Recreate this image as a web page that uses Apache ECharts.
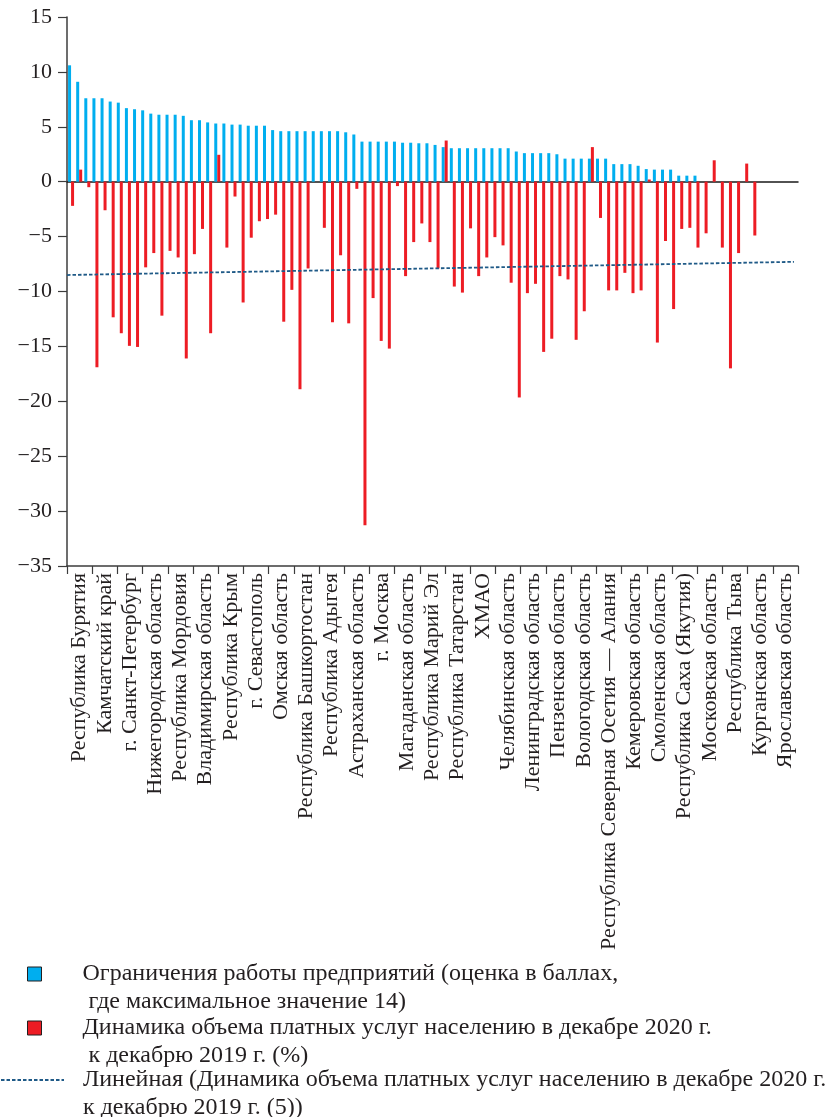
<!DOCTYPE html>
<html><head><meta charset="utf-8">
<script src="https://cdn.jsdelivr.net/npm/echarts@6/dist/echarts.min.js"></script>
<style>html,body{margin:0;padding:0;background:#fff}#c{width:832px;height:1117px}</style>
</head><body><div id="c"></div>
<script>
// Labelled regions (every third region of the sorted list carries a label)
const labelCategories = [
  'Республика Бурятия','Камчатский край','г. Санкт-Петербург','Нижегородская область',
  'Республика Мордовия','Владимирская область','Республика Крым','г. Севастополь',
  'Омская область','Республика Башкортостан','Республика Адыгея','Астраханская область',
  'г. Москва','Магаданская область','Республика Марий Эл','Республика Татарстан','ХМАО',
  'Челябинская область','Ленинградская область','Пензенская область','Вологодская область',
  'Республика Северная Осетия — Алания','Кемеровская область','Смоленская область',
  'Республика Саха (Якутия)','Московская область','Республика Тыва','Курганская область',
  'Ярославская область'
];
// Restrictions on enterprises (score, max 14), one value per region, sorted
const restrictionScores = [
  10.6, 9.1, 7.6, 7.6, 7.6, 7.3, 7.2, 6.7, 6.6, 6.5,
  6.2, 6.1, 6.1, 6.1, 6.0, 5.6, 5.6, 5.4, 5.3, 5.3,
  5.2, 5.2, 5.1, 5.1, 5.1, 4.7, 4.6, 4.6, 4.6, 4.6,
  4.6, 4.6, 4.6, 4.6, 4.5, 4.3, 3.65, 3.65, 3.65, 3.65,
  3.65, 3.55, 3.55, 3.5, 3.5, 3.35, 3.15, 3.05, 3.05, 3.05,
  3.05, 3.05, 3.05, 3.05, 3.05, 2.75, 2.6, 2.6, 2.6, 2.6,
  2.5, 2.1, 2.1, 2.1, 2.1, 2.1, 2.1, 1.6, 1.6, 1.6,
  1.45, 1.15, 1.1, 1.1, 1.1, 0.55, 0.55, 0.55, null, null,
  null, null, null, null, null
];
// Paid services volume, Dec 2020 vs Dec 2019 (%)
const servicesDynamics = [
  -2.2, 1.1, -0.5, -16.9, -2.6, -12.35, -13.8, -14.95, -15.05, -7.8,
  -6.5, -12.2, -6.3, -6.9, -16.1, -6.6, -4.3, -13.8, 2.45, -6.0,
  -1.35, -11.0, -5.1, -3.6, -3.4, -3.0, -12.75, -9.85, -18.9, -7.9,
  null, -4.2, -12.8, -6.7, -12.9, -0.65, -31.3, -10.6, -14.5, -15.2,
  -0.4, -8.6, -5.5, -3.8, -5.5, -7.9, 3.75, -9.55, -10.1, -4.25,
  -8.6, -6.9, -5.05, -5.8, -9.2, -19.65, -10.15, -9.3, -15.5, -14.3,
  -8.6, -8.9, -14.4, -11.8, 3.15, -3.3, -9.9, -9.9, -8.3, -10.15,
  -9.9, 0.2, -14.65, -5.4, -11.6, -4.3, -4.2, -6.0, -4.7, 1.95,
  -6.0, -17.0, -6.5, 1.65, -4.9
];
// empty slots after the last region on the bar axis
const blankSlots = 5;
// Linear trend of the services series: [x in bar slots, value]
const trendX = [0, 89.5];
const trendValues = [-8.5, -7.3];
const yMin = -35, yMax = 15, yStep = 5;

const seriesNames = [
  'Ограничения работы предприятий (оценка в баллах,\n где максимальное значение 14)',
  'Динамика объема платных услуг населению в декабре 2020 г.\n к декабрю 2019 г. (%)',
  'Линейная (Динамика объема платных услуг населению в декабре 2020 г.\nк декабрю 2019 г. (5))'
];

const barSlots = Array.from({length: restrictionScores.length + blankSlots}, (_, i) => String(i + 1));
const FONT = '"Liberation Serif", "Times New Roman", serif';
const INK = '#231f20';
const AX = '#3c3c3c';

const chart = echarts.init(document.getElementById('c'), null, {renderer: 'canvas'});
// the legend icon sits level with the first line of its two-line label
const legendBase = {
  orient: 'vertical', padding: 0, selectedMode: false,
  formatter: name => '\u00a0\n' + name
};
const legendText = pad => ({fontFamily: FONT, fontSize: 24, lineHeight: 28, color: INK, padding: [0, 0, 0, pad]});
chart.setOption({
  animation: false,
  backgroundColor: '#fff',
  grid: {left: 67, right: 34, top: 17, bottom: 551},
  xAxis: [
    {
      type: 'category', data: labelCategories, position: 'bottom', boundaryGap: true,
      axisLine: {onZero: false, lineStyle: {color: AX, width: 1.5}},
      axisTick: {show: true, interval: 0, length: 8, lineStyle: {color: AX, width: 1.2}},
      axisLabel: {interval: 0, rotate: 90, margin: 7, fontFamily: FONT, fontSize: 22, color: INK},
      splitLine: {show: false}
    },
    {
      type: 'category', data: barSlots, position: 'bottom', boundaryGap: true,
      axisLine: {show: true, onZero: true, lineStyle: {color: '#1a1a1a', width: 1.5}},
      axisTick: {show: false}, axisLabel: {show: false}, splitLine: {show: false}
    },
    {type: 'value', min: 0, max: barSlots.length, show: false, splitLine: {show: false}}
  ],
  yAxis: {
    type: 'value', min: yMin, max: yMax, interval: yStep,
    axisLine: {show: true, onZero: false, lineStyle: {color: AX, width: 1.5}},
    axisTick: {show: true, length: 9, lineStyle: {color: AX, width: 1.2}},
    axisLabel: {margin: 15, fontFamily: FONT, fontSize: 22, color: INK,
      formatter: v => String(v).replace('-', '\u2212')},
    splitLine: {show: false}
  },
  legend: [
    Object.assign({}, legendBase, {
      data: [seriesNames[0]], left: 27, top: 932, itemWidth: 14, itemHeight: 14, icon: 'rect',
      itemStyle: {borderColor: INK, borderWidth: 1},
      textStyle: legendText(36)
    }),
    Object.assign({}, legendBase, {
      data: [seriesNames[1]], left: 27, top: 986, itemWidth: 14, itemHeight: 14, icon: 'rect',
      itemStyle: {borderColor: INK, borderWidth: 1},
      textStyle: legendText(36)
    }),
    Object.assign({}, legendBase, {
      data: [seriesNames[2]], left: 0, top: 1038, itemWidth: 63, itemHeight: 14,
      itemStyle: {color: 'rgba(0,0,0,0)', borderColor: 'rgba(0,0,0,0)', borderWidth: 0, opacity: 0},
      textStyle: legendText(14)
    })
  ],
  series: [
    {
      name: seriesNames[0], type: 'bar', xAxisIndex: 1, data: restrictionScores,
      barWidth: 3, barGap: '0%', itemStyle: {color: '#00aeef'}
    },
    {
      name: seriesNames[1], type: 'bar', xAxisIndex: 1, data: servicesDynamics,
      barWidth: 3, barGap: '0%', itemStyle: {color: '#ed1c24'}
    },
    {
      name: seriesNames[2], type: 'line', xAxisIndex: 2, z: 5,
      data: trendX.map((x, i) => [x, trendValues[i]]), symbol: 'none',
      lineStyle: {color: '#1f5a87', width: 1.8, type: [3.5, 2]}
    }
  ]
});
</script></body></html>
